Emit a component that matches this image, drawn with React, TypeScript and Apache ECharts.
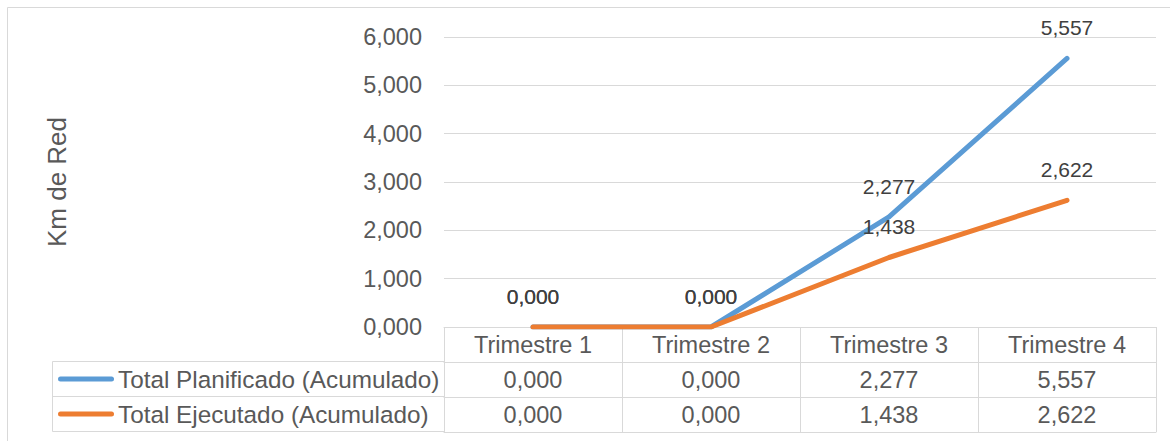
import React, { useEffect, useRef } from "react";
import * as echarts from "echarts";

const categories = ["Trimestre 1", "Trimestre 2", "Trimestre 3", "Trimestre 4"];
const plannedName = "Total Planificado (Acumulado)";
const executedName = "Total Ejecutado (Acumulado)";
const planned = [0, 0, 2.277, 5.557];
const executed = [0, 0, 1.438, 2.622];
const yAxisName = "Km de Red";
const yMin = 0;
const yMax = 6;
const yStep = 1;

const fmt = (v: number) => v.toFixed(3).replace(".", ",");

const FONT = "'Liberation Sans', Arial, sans-serif";
const TXT = "#595959";
const LBL = "#404040";
const GRID = "#d9d9d9";
const BLUE = "#5B9BD5";
const ORANGE = "#ED7D31";
const FS = 23.5;

const linePath = "path://M2.5,0 L53.5,0 A2.5,2.5 0 0 1 53.5,5 L2.5,5 A2.5,2.5 0 0 1 2.5,0 Z";

export default function App() {
  const ref = useRef<HTMLDivElement>(null);
  useEffect(() => {
    if (!ref.current) return;
    const chart = echarts.init(ref.current, null, { renderer: "svg" });
    const rowAxis = (offset: number, values: number[] | null, showTicks: boolean) => ({
      type: "category",
      data: categories,
      position: "bottom",
      offset,
      boundaryGap: true,
      axisLine: { show: true, lineStyle: { color: GRID, width: 1 } },
      axisTick: { show: showTicks, length: 35, alignWithLabel: false, lineStyle: { color: GRID, width: 1 } },
      axisLabel: {
        show: values !== null || offset === 0,
        margin: 6,
        color: TXT,
        fontFamily: FONT,
        fontSize: FS,
        lineHeight: 24,
        formatter: (v: string, i: number) => (values ? fmt(values[i]) : v),
      },
      splitLine: { show: false },
    });
    const legendText = { color: TXT, fontFamily: FONT, fontSize: 24.3, lineHeight: 24, padding: [0, 0, 0, -1] };
    chart.setOption({
      animation: false,
      backgroundColor: "#ffffff",
      grid: { left: 444, right: 14, top: 37, bottom: 114, containLabel: false },
      xAxis: [
        rowAxis(0, null, true),
        rowAxis(35, planned, true),
        rowAxis(70, executed, true),
        { ...rowAxis(105, null, false), axisLabel: { show: false } },
      ],
      yAxis: {
        type: "value",
        min: yMin,
        max: yMax,
        interval: yStep,
        name: yAxisName,
        nameLocation: "middle",
        nameGap: 374,
        nameRotate: 90,
        nameTextStyle: { color: TXT, fontFamily: FONT, fontSize: 26 },
        axisLine: { show: false },
        axisTick: { show: false },
        axisLabel: { margin: 22, color: TXT, fontFamily: FONT, fontSize: FS, formatter: (v: number) => fmt(v) },
        splitLine: { lineStyle: { color: GRID, width: 1 } },
      },
      legend: [
        {
          data: [plannedName],
          left: 58,
          top: 367,
          padding: 0,
          icon: linePath,
          itemWidth: 56,
          itemHeight: 5,
          textStyle: legendText,
          selectedMode: false,
        },
        {
          data: [executedName],
          left: 58,
          top: 402,
          padding: 0,
          icon: linePath,
          itemWidth: 56,
          itemHeight: 5,
          textStyle: legendText,
          selectedMode: false,
        },
      ],
      graphic: [
        { type: "rect", silent: true, shape: { x: 7.5, y: 7.5, width: 1200, height: 500 }, style: { fill: "none", stroke: GRID, lineWidth: 1 } },
        { type: "line", silent: true, shape: { x1: 52.5, y1: 361.5, x2: 444, y2: 361.5 }, style: { stroke: GRID, lineWidth: 1 } },
        { type: "line", silent: true, shape: { x1: 52.5, y1: 396.5, x2: 444, y2: 396.5 }, style: { stroke: GRID, lineWidth: 1 } },
        { type: "line", silent: true, shape: { x1: 52.5, y1: 431.5, x2: 444, y2: 431.5 }, style: { stroke: GRID, lineWidth: 1 } },
        { type: "line", silent: true, shape: { x1: 52.5, y1: 361.5, x2: 52.5, y2: 431.5 }, style: { stroke: GRID, lineWidth: 1 } },
      ],
      series: [
        {
          name: plannedName,
          type: "line",
          data: planned,
          xAxisIndex: 0,
          symbol: "circle",
          symbolSize: 4,
          showSymbol: true,
          itemStyle: { color: BLUE },
          lineStyle: { color: BLUE, width: 5, cap: "round", join: "round" },
          label: { show: true, position: "top", distance: 18, color: LBL, fontFamily: FONT, fontSize: 21, formatter: (p: any) => fmt(p.value) },
          z: 3,
        },
        {
          name: executedName,
          type: "line",
          data: executed,
          xAxisIndex: 0,
          symbol: "circle",
          symbolSize: 4,
          showSymbol: true,
          itemStyle: { color: ORANGE },
          lineStyle: { color: ORANGE, width: 5, cap: "round", join: "round" },
          label: { show: true, position: "top", distance: 18, color: LBL, fontFamily: FONT, fontSize: 21, formatter: (p: any) => fmt(p.value) },
          z: 4,
        },
      ],
    });
    return () => chart.dispose();
  }, []);
  return <div ref={ref} style={{ position: "fixed", left: 0, top: 0, width: 1170, height: 441 }} />;
}
